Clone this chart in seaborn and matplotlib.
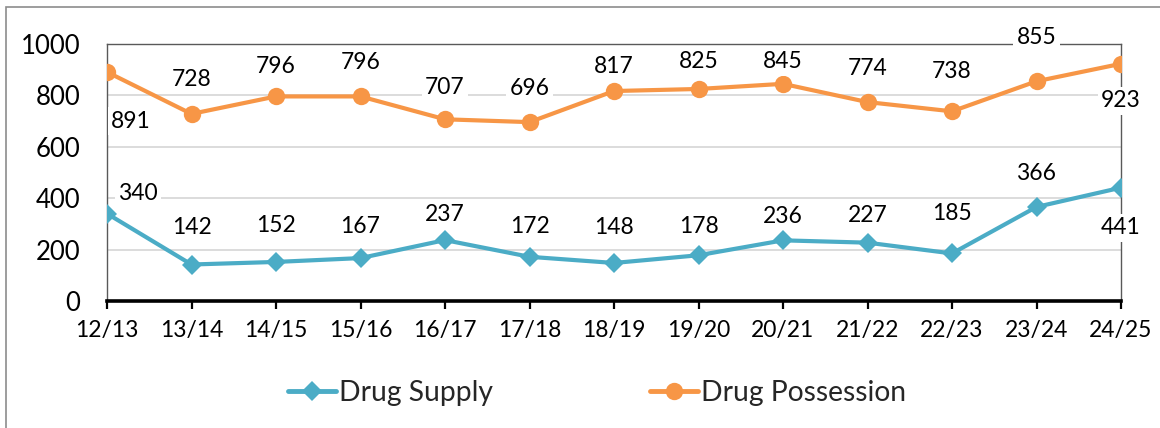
import matplotlib
matplotlib.use("Agg")
import matplotlib.pyplot as plt
import seaborn as sns
import pandas as pd
import numpy as np

years = ["12/13", "13/14", "14/15", "15/16", "16/17", "17/18", "18/19",
         "19/20", "20/21", "21/22", "22/23", "23/24", "24/25"]
drug_supply = [340, 142, 152, 167, 237, 172, 148, 178, 236, 227, 185, 366, 441]
drug_possession = [891, 728, 796, 796, 707, 696, 817, 825, 845, 774, 738, 855, 923]
series_names = ["Drug Supply", "Drug Possession"]
y_ticks = [0, 200, 400, 600, 800, 1000]

# label offsets in pixels (dx, dy) -- layout only
poss_off = [(24, -49), (0, 34), (0, 30), (0, 34), (0, 32), (0, 34), (0, 25),
            (0, 27), (0, 22), (0, 34), (0, 40), (0, 44), (0, -37)]
supp_off = [(31, 20), (0, 37), (0, 36), (0, 32), (0, 26), (0, 30), (0, 35),
            (0, 29), (0, 24), (0, 27), (0, 40), (0, 33), (0, -40)]

sns.set_theme(style="white")
plt.rcParams["font.family"] = ["Lato", "DejaVu Sans"]

BLUE = "#4BACC6"
ORANGE = "#F79646"

df = pd.DataFrame({
    "Year": years * 2,
    "idx": list(range(len(years))) * 2,
    "Value": drug_supply + drug_possession,
    "Series": [series_names[0]] * len(years) + [series_names[1]] * len(years),
})

fig = plt.figure(figsize=(11.6, 4.28), dpi=100)
ax = fig.add_axes([107 / 1160, 1 - 301 / 428, (1121 - 107) / 1160, (301 - 44) / 428])

# figure border
fig.patches.append(plt.Rectangle((6 / 1160, -0.1), 1.2, 1 - 7 / 428 + 0.1,
                                 transform=fig.transFigure, fill=False,
                                 edgecolor="#8C8C8C", linewidth=1.2))

for y in [200, 400, 600, 800]:
    ax.axhline(y, color="#D9D9D9", linewidth=1.3, zorder=0)

sns.lineplot(data=df, x="idx", y="Value", hue="Series", style="Series",
             markers={series_names[0]: "D", series_names[1]: "o"},
             dashes=False, palette={series_names[0]: BLUE, series_names[1]: ORANGE},
             linewidth=3.0, markersize=12.5, markeredgewidth=0, ax=ax, zorder=3)
for line in ax.lines:
    if line.get_marker() == "D":
        line.set_markersize(10.5)

ax.set_xlim(0, len(years) - 1)
ax.set_ylim(0, 1000)
ax.set_yticks(y_ticks)
ax.set_yticklabels([str(v) for v in y_ticks], fontsize=18.5, color="black")
ax.set_xticks(range(len(years)))
ax.set_xticklabels(years, fontsize=16.5, color="black")
ax.tick_params(axis="y", length=0, pad=19)
ax.tick_params(axis="x", direction="out", length=6, width=1.6, color="black", pad=8,
               bottom=True)
ax.set_xlabel("")
ax.set_ylabel("")

for s in ["top", "left", "right"]:
    ax.spines[s].set_color("#595959")
    ax.spines[s].set_linewidth(1.0)
ax.spines["bottom"].set_color("black")
ax.spines["bottom"].set_linewidth(2.6)
ax.spines["bottom"].set_zorder(5)

px = 72 / 100.0
for vals, offs in [(drug_possession, poss_off), (drug_supply, supp_off)]:
    for i, v in enumerate(vals):
        dx, dy = offs[i]
        ax.annotate(str(v), (i, v), xytext=(dx * px, dy * px), textcoords="offset points",
                    ha="center", va="center", fontsize=16.5, color="black",
                    bbox=dict(boxstyle="square,pad=0.15", fc="white", ec="none"),
                    zorder=6, annotation_clip=False)

handles, labels = ax.get_legend_handles_labels()
for h in handles:
    h.set_linewidth(3.5)
ax.legend(handles, labels, loc="center", bbox_to_anchor=(597 / 1160, 1 - 393 / 428),
          bbox_transform=fig.transFigure, ncol=2, frameon=False, fontsize=20.3,
          handlelength=1.7, handletextpad=0.08, columnspacing=5.6)

fig.savefig("out.png", dpi=100)
